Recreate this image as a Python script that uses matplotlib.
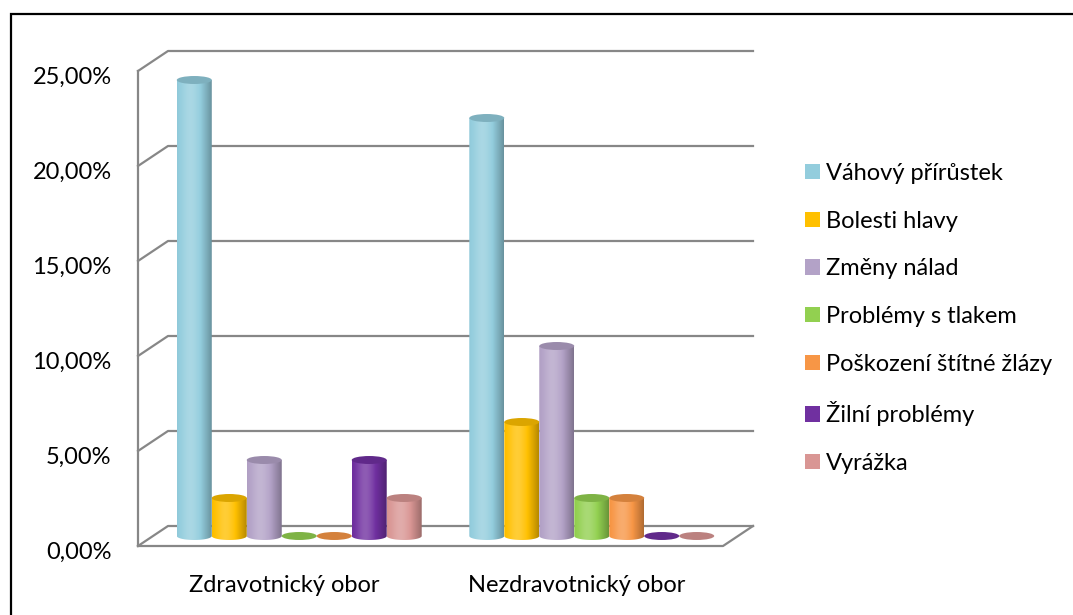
import numpy as np
import matplotlib.pyplot as plt
from matplotlib.patches import Ellipse, PathPatch, Patch, Rectangle
from matplotlib.path import Path
from matplotlib.colors import to_rgb
from matplotlib.transforms import ScaledTranslation

plt.rcParams['font.family'] = ['Lato', 'DejaVu Sans']

categories = ["Zdravotnický obor", "Nezdravotnický obor"]
series = ["Váhový přírůstek", "Bolesti hlavy", "Změny nálad", "Problémy s tlakem",
          "Poškození štítné žlázy", "Žilní problémy", "Vyrážka"]
# percent of respondents per category, same order as series
zdravotnicky = [24, 2, 4, 0, 0, 4, 2]
nezdravotnicky = [22, 6, 10, 2, 2, 0, 0]
colors = ["#93CDDD", "#FFC000", "#B3A2C7", "#92D050", "#F79646", "#7030A0", "#D99694"]
yticks = [0, 5, 10, 15, 20, 25]

values = [zdravotnicky, nezdravotnicky]

# fake 3D: depth offset of the back wall in data units
DX = 30 / 35
DY = 20 / 19
GAP = 1.36
n = len(series)
cat_w = n + GAP
W = cat_w * len(categories)
R = 0.5     # cylinder radius (x units)
E = 0.21    # half height of the cap ellipse (y units)
GRID = "#878787"
FS = 17


def shade(color, t):
    c = np.array(to_rgb(color))
    k = 0.95 + 0.2 * np.exp(-((t - 0.38) / 0.28) ** 2) - 0.24 * np.clip((t - 0.6) / 0.4, 0, 1) ** 1.6
    out = np.empty((len(t), 3))
    for i, kk in enumerate(k):
        if kk >= 1:
            out[i] = c + (1 - c) * (kk - 1) * 1.4
        else:
            out[i] = c * kk
    return np.clip(out, 0, 1)


def cylinder(ax, xc, base, height, color):
    top = base + height
    cap = np.clip(np.array(to_rgb(color)) * 0.86, 0, 1)
    if height > 0:
        th = np.linspace(np.pi, 2 * np.pi, 40)
        verts = [(xc - R, top), (xc - R, base)]
        verts += [(xc + R * np.cos(a), base + E * np.sin(a)) for a in th]
        verts += [(xc + R, top), (xc - R, top)]
        body = PathPatch(Path(verts), facecolor="none", edgecolor="none")
        ax.add_patch(body)
        img = shade(color, np.linspace(0, 1, 80))[None, :, :]
        im = ax.imshow(img, extent=(xc - R, xc + R, base - E, top), aspect="auto",
                       interpolation="bilinear", zorder=3)
        im.set_clip_path(body)
    ax.add_patch(Ellipse((xc, top), 2 * R, 2 * E, facecolor=cap, edgecolor="none", zorder=4))


fig = plt.figure(figsize=(10.73, 6.15), dpi=100)
ax = fig.add_axes([138 / 1073, 69 / 615, 615 / 1073, 495 / 615])

# walls and floor
for v in yticks:
    ax.plot([0, DX, W + DX], [v, v + DY, v + DY], color=GRID, lw=1.6, clip_on=False, zorder=1)
ax.plot([0, 0], [0, yticks[-1]], color=GRID, lw=1.6, clip_on=False, zorder=1)
ax.plot([0, W, W + DX], [0, 0, DY], color=GRID, lw=1.6, clip_on=False, zorder=1)

for i, vals in enumerate(values):
    for j, v in enumerate(vals):
        left = i * cat_w + GAP / 2 + j
        cylinder(ax, left + 0.5 + 0.5 * DX, 0.5 * DY, v, colors[j])

ax.set_xlim(0, W + DX)
ax.set_ylim(0, yticks[-1] + DY)
for s in ax.spines.values():
    s.set_visible(False)

ax.set_yticks(yticks)
ax.set_yticklabels([f"{v:.2f}%".replace(".", ",") for v in yticks], fontsize=FS)
ax.set_xticks([i * cat_w + cat_w / 2 for i in range(len(categories))])
ax.set_xticklabels(categories, fontsize=FS)
ax.tick_params(axis="y", length=0, pad=19)
ax.tick_params(axis="x", length=0, pad=21)
for lab in ax.get_yticklabels():
    lab.set_transform(lab.get_transform() + ScaledTranslation(0, -0.04, fig.dpi_scale_trans))

handles = [Patch(facecolor=c, edgecolor="none", label=s) for s, c in zip(series, colors)]
fig.legend(handles=handles, loc="upper left", bbox_to_anchor=(805 / 1073, 1 - 163 / 615),
           frameon=False, fontsize=FS, handlelength=0.62, handleheight=0.62,
           handletextpad=0.28, labelspacing=1.13, borderpad=0, borderaxespad=0)

# chart area border
fig.add_artist(Rectangle((11 / 1073, -0.2), 1.2, 1.2 - 14 / 615, transform=fig.transFigure,
                         fill=False, edgecolor="black", lw=1.6))

fig.savefig("out.png", dpi=100)
